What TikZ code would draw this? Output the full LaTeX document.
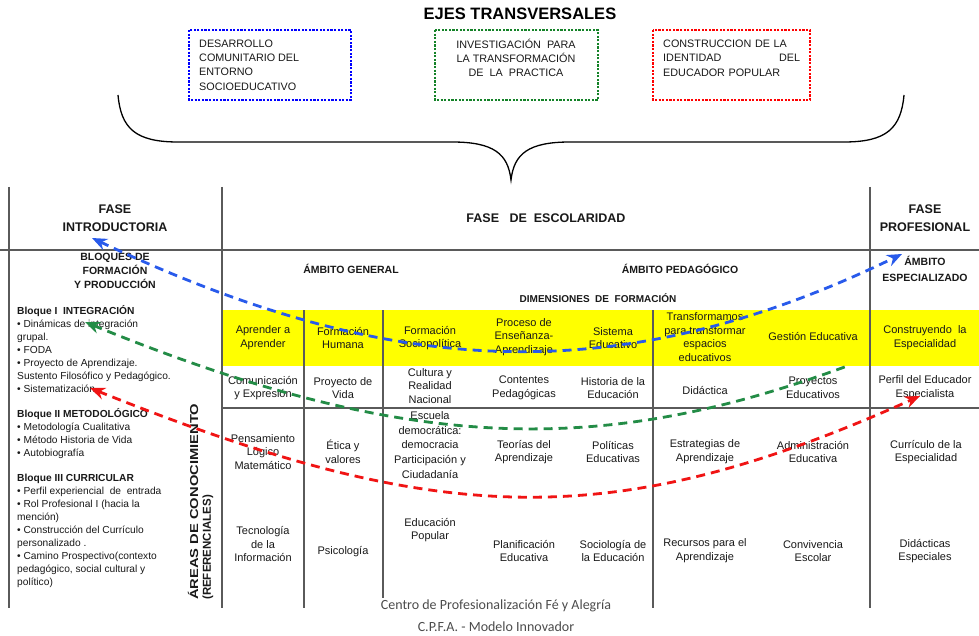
\documentclass[tikz,border=0pt]{standalone}
\usepackage{fontspec}
\usepackage{graphicx}
\setmainfont{Liberation Sans}
\newfontfamily\footfont{Carlito}
\usetikzlibrary{arrows.meta}
\definecolor{ejeblue}{RGB}{0,0,255}
\definecolor{ejegreen}{RGB}{20,130,40}
\definecolor{ejered}{RGB}{255,0,0}
\definecolor{arcblue}{RGB}{40,90,235}
\definecolor{arcgreen}{RGB}{35,140,70}
\definecolor{arcred}{RGB}{240,20,20}
\definecolor{rulegray}{RGB}{90,90,90}
\definecolor{dimyellow}{RGB}{255,255,0}

\begin{document}
\begin{tikzpicture}[x=1pt,y=-1pt,
    ejebox/.style={line width=2.6pt, dash pattern=on 2.2pt off 1.4pt},
    boxtxt/.style={font=\fontsize{10.8}{14.3}\selectfont, inner sep=0pt, text=black!90},
    rule/.style={draw=rulegray, line width=1.4pt},
    head/.style={font=\bfseries\fontsize{12.5}{18.5}\selectfont, align=center, inner sep=0pt, text=black!90},
    sub/.style={font=\bfseries\fontsize{10.5}{15}\selectfont, align=center, inner sep=0pt, text=black!90},
    cell/.style={font=\fontsize{11}{13.8}\selectfont, align=center, inner sep=0pt, text=black!90},
    lst/.style={font=\fontsize{10.2}{13}\selectfont, align=left, anchor=north west, inner sep=0pt, text=black!90},
    areas/.style={font=\bfseries\fontsize{11.5}{14}\selectfont, inner sep=0pt, rotate=90, anchor=west, text=black!90},
    foot/.style={font=\footfont\fontsize{14}{16}\selectfont, inner sep=0pt, text=black!70},
    link/.style={line width=2.8pt, dash pattern=on 9pt off 6pt}]

    \fill[white] (0,0) rectangle (979,636);
    \useasboundingbox (0,0) rectangle (979,636);

    \node[font=\bfseries\fontsize{16.5}{18}\selectfont, inner sep=0pt] (ejes) at (520,14) {EJES TRANSVERSALES};

    \draw[ejebox, ejeblue] (189,30) rectangle (351,100);
    \node[boxtxt, align=left, anchor=west] (desarrollo) at (199,65) {DESARROLLO\\COMUNITARIO DEL\\ENTORNO\\SOCIOEDUCATIVO};

    \draw[ejebox, ejegreen] (435,30) rectangle (598,100);
    \node[boxtxt, align=center] (investigacion) at (516,58) {INVESTIGACIÓN\ \ PARA\\LA TRANSFORMACIÓN\\DE\ \ LA\ \ PRACTICA};

    \draw[ejebox, ejered] (653,30) rectangle (810,100);
    \node[boxtxt, align=left, anchor=west, text width=137pt] (construccion) at (663,58) {CONSTRUCCION DE LA\\IDENTIDAD\hfill DEL\\EDUCADOR POPULAR};

    \draw[line width=1.3pt] (118,95) .. controls (121,128) and (135,142) .. (178,142) -- (452,142) .. controls (494,142) and (508,154) .. (511,180) .. controls (514,154) and (528,142) .. (570,142) -- (844,142) .. controls (887,142) and (901,128) .. (904,95);

    \fill[dimyellow] (223,310) rectangle (979,366);

    \draw[rule] (9,187) -- (9,608);
    \draw[rule] (222,187) -- (222,608);
    \draw[rule] (870,187) -- (870,608);
    \draw[rule] (0,250) -- (979,250);
    \draw[rule] (304,310) -- (304,608);
    \draw[rule] (383,310) -- (383,598);
    \draw[rule] (653,310) -- (653,608);
    \draw[rule] (222,408) -- (979,408);

    \node[head] (intro) at (115,218) {FASE\\INTRODUCTORIA};
    \node[head] (escolaridad) at (546,218) {FASE\ \ \ DE\ \ ESCOLARIDAD};
    \node[head] (profesional) at (925,218) {FASE\\PROFESIONAL};

    \node[sub, font=\bfseries\fontsize{10.5}{14}\selectfont] (bloquesTit) at (115,271) {BLOQUES DE\\FORMACIÓN\\Y PRODUCCIÓN};
    \node[sub] (general) at (351,269) {ÁMBITO GENERAL};
    \node[sub] (pedagogico) at (680,269) {ÁMBITO PEDAGÓGICO};
    \node[sub, font=\bfseries\fontsize{10.5}{16.5}\selectfont] (especializado) at (925,269) {ÁMBITO\\ESPECIALIZADO};
    \node[sub, font=\bfseries\fontsize{10}{12}\selectfont] (dimensiones) at (598,298) {DIMENSIONES\ \ DE\ \ FORMACIÓN};

    \node[lst] (bloques) at (17,305) {\textbf{Bloque I\ \ INTEGRACIÓN}\\
    • Dinámicas de integración\\
    grupal.\\
    • FODA\\
    • Proyecto de Aprendizaje.\\
    Sustento Filosófico y Pedagógico.\\
    • Sistematización\\[12pt]
    \textbf{Bloque II METODOLÓGICO}\\
    • Metodología Cualitativa\\
    • Método Historia de Vida\\
    • Autobiografía\\[12pt]
    \textbf{Bloque III CURRICULAR}\\
    • Perfil experiencial\ \ de\ \ entrada\\
    • Rol Profesional I (hacia la\\
    mención)\\
    • Construcción del Currículo\\
    personalizado .\\
    • Camino Prospectivo(contexto\\
    pedagógico, social cultural y\\
    político)};

    \node[areas] (areasA) at (193,600) {\scalebox{1.28}[1]{ÁREAS DE CONOCIMIENTO}};
    \node[areas] (areasB) at (208,600) {(REFERENCIALES)};

    \node[cell] (aprender) at (263,338) {Aprender a\\Aprender};
    \node[cell] (humana) at (343,338) {Formación\\Humana};
    \node[cell] (sociopol) at (430,338) {Formación\\Sociopolítica};
    \node[cell] (proceso) at (524,337) {Proceso de\\Enseñanza-\\Aprendizaje};
    \node[cell] (sistema) at (613,338) {Sistema\\Educativo};
    \node[cell] (transformamos) at (705,337) {Transformamos\\para transformar\\espacios\\educativos};
    \node[cell] (gestion) at (813,337) {Gestión Educativa};
    \node[cell] (construyendo) at (925,338) {Construyendo\ \ la\\Especialidad};

    \node[cell] (comunicacion) at (263,388) {Comunicación\\y Expresión};
    \node[cell] (vida) at (343,388) {Proyecto de\\Vida};
    \node[cell] (cultura) at (430,386) {Cultura y\\Realidad\\Nacional};
    \node[cell] (contentes) at (524,388) {Contentes\\Pedagógicas};
    \node[cell] (historia) at (613,388) {Historia de la\\Educación};
    \node[cell] (didactica) at (705,391) {Didáctica};
    \node[cell] (proyectos) at (813,388) {Proyectos\\Educativos};
    \node[cell] (perfil) at (925,388) {Perfil del Educador\\Especialista};

    \node[cell] (pensamiento) at (263,452) {Pensamiento\\Lógico\\Matemático};
    \node[cell] (etica) at (343,452) {Ética y\\valores};
    \node[cell, font=\fontsize{11}{14.6}\selectfont] (escuela) at (430,445) {Escuela\\democrática:\\democracia\\Participación y\\Ciudadanía};
    \node[cell] (teorias) at (524,452) {Teorías del\\Aprendizaje};
    \node[cell] (politicas) at (613,452) {Políticas\\Educativas};
    \node[cell] (estrategias) at (705,452) {Estrategias de\\Aprendizaje};
    \node[cell] (administracion) at (813,452) {Administración\\Educativa};
    \node[cell] (curriculo) at (926,452) {Currículo de la\\Especialidad};

    \node[cell] (tecnologia) at (263,544) {Tecnología\\de la\\Información};
    \node[cell] (psicologia) at (343,552) {Psicología};
    \node[cell] (popular) at (430,530) {Educación\\Popular};
    \node[cell] (planificacion) at (524,551) {Planificación\\Educativa};
    \node[cell] (sociologia) at (613,551) {Sociología de\\la Educación};
    \node[cell] (recursos) at (705,551) {Recursos para el\\Aprendizaje};
    \node[cell] (convivencia) at (813,551) {Convivencia\\Escolar};
    \node[cell] (didacticas) at (925,551) {Didácticas\\Especiales};

    \coordinate (blueL) at (92,238);
    \coordinate (blueR) at (902,254);
    \coordinate (greenL) at (85,322);
    \coordinate (greenR) at (850,365);
    \coordinate (redL) at (90,388);
    \coordinate (redR) at (920,396);

    \draw[link, arcblue, {Stealth[length=15pt,width=12pt]}-{Stealth[length=15pt,width=12pt]}] (blueL) .. controls (382,375) and (611,395) .. (blueR);
    \draw[link, arcgreen, {Stealth[length=15pt,width=12pt]}-] (greenL) .. controls (415,457) and (607,455) .. (greenR);
    \draw[link, arcred, {Stealth[length=15pt,width=12pt]}-{Stealth[length=15pt,width=12pt]}] (redL) .. controls (439,528) and (612,534) .. (redR);

    \node[foot] (centro) at (496,606) {Centro de Profesionalización Fé y Alegría};
    \node[foot] (cpfa) at (496,627) {C.P.F.A. - Modelo Innovador};
\end{tikzpicture}
\end{document}
